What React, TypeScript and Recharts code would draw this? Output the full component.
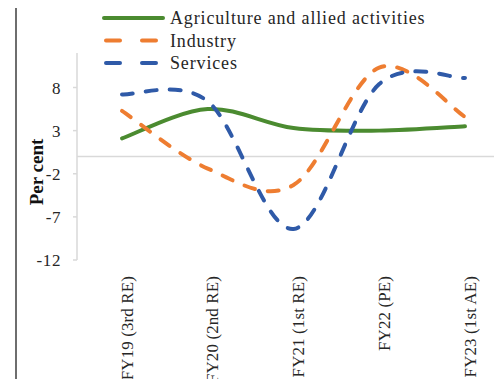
import React from "react";
import { Line, LineChart, ReferenceLine, XAxis, YAxis } from "recharts";

const years = ["FY19 (3rd RE)", "FY20 (2nd RE)", "FY21 (1st RE)", "FY22 (PE)", "FY23 (1st AE)"];
const agriculture = [2.1, 5.5, 3.3, 3.0, 3.5];
const industry = [5.3, -1.4, -3.3, 10.3, 4.6];
const services = [7.2, 6.4, -8.4, 8.4, 9.1];
const yTicks = [-12, -7, -2, 3, 8];

const series = [
  { key: "agriculture", name: "Agriculture and allied activities", color: "#4b8b30", dash: undefined },
  { key: "industry", name: "Industry", color: "#ee7d31", dash: "11 13" },
  { key: "services", name: "Services", color: "#2f5aa8", dash: "11 13" },
];

const data = years.map((year, i) => ({
  year,
  agriculture: agriculture[i],
  industry: industry[i],
  services: services[i],
}));

const FONT = "'Liberation Serif', 'Times New Roman', serif";

// smoothed line through every point, like the spreadsheet "smoothed line" option
function smoothCurve(context: any) {
  let pts: number[][] = [];
  return {
    areaStart() {},
    areaEnd() {},
    lineStart() {
      pts = [];
    },
    point(x: number, y: number) {
      pts.push([+x, +y]);
    },
    lineEnd() {
      if (!pts.length) return;
      context.moveTo(pts[0][0], pts[0][1]);
      for (let i = 0; i < pts.length - 1; i++) {
        const p0 = pts[i - 1] || pts[i];
        const p1 = pts[i];
        const p2 = pts[i + 1];
        const p3 = pts[i + 2] || p2;
        context.bezierCurveTo(
          p1[0] + (p2[0] - p0[0]) / 6,
          p1[1] + (p2[1] - p0[1]) / 6,
          p2[0] - (p3[0] - p1[0]) / 6,
          p2[1] - (p3[1] - p1[1]) / 6,
          p2[0],
          p2[1]
        );
      }
    },
  };
}

function YearTick(props: any) {
  const { x, y, payload } = props;
  const tx = x + 5;
  const ty = y + 8;
  return (
    <text
      x={tx}
      y={ty}
      transform={`rotate(-90, ${tx}, ${ty})`}
      textAnchor="end"
      dominantBaseline="central"
      fontFamily={FONT}
      fontSize={17}
      letterSpacing={0.1}
      fill="#262626"
    >
      {payload.value}
    </text>
  );
}

function AxisTitle() {
  const cy = 172;
  const cx = 36;
  return (
    <text
      x={cx}
      y={cy}
      transform={`rotate(-90, ${cx}, ${cy})`}
      textAnchor="middle"
      dominantBaseline="central"
      fontFamily={FONT}
      fontSize={19}
      fontWeight="bold"
      fill="#111"
    >
      Per cent
    </text>
  );
}

function LegendBox() {
  return (
    <svg width={480} height={75} style={{ position: "absolute", left: 0, top: 0 }}>
      {series.map((s, i) => {
        const y = 18 + i * 22.5;
        return (
          <g key={s.key}>
            <line
              x1={s.dash ? 106 : 104}
              x2={s.dash ? 160 : 163}
              y1={y}
              y2={y}
              stroke={s.color}
              strokeWidth={4}
              strokeDasharray={s.dash ? "14 22" : undefined}
              strokeLinecap="round"
            />
            <text
              x={170}
              y={y + 6}
              fontFamily={FONT}
              fontSize={18}
              letterSpacing={0.85}
              fill="#262626"
            >
              {s.name}
            </text>
          </g>
        );
      })}
    </svg>
  );
}

export default function App() {
  return (
    <div
      style={{
        position: "relative",
        margin: -8,
        width: 502,
        height: 387,
        overflow: "hidden",
        background: "#fff",
      }}
    >
      <div
        style={{
          position: "absolute",
          left: 15,
          top: 6,
          width: 600,
          height: 400,
          borderLeft: "2px solid #6e6e6e",
          borderTop: "2px solid #6e6e6e",
        }}
      />
      <div style={{ position: "absolute", left: 0, top: 0 }}>
        <LineChart width={512} height={400} data={data} margin={{ top: 53, right: 0, bottom: 0, left: 0 }}>
          <XAxis
            dataKey="year"
            axisLine={false}
            tickLine={false}
            interval={0}
            height={140}
            padding={{ left: 45, right: 47 }}
            tick={<YearTick />}
          />
          <YAxis
            width={77}
            domain={[-12, 12]}
            ticks={yTicks}
            allowDataOverflow
            axisLine={{ stroke: "#d9d9d9", strokeWidth: 1.5 }}
            tickLine={{ stroke: "#d9d9d9", strokeWidth: 1.5 }}
            tickSize={4}
            tickMargin={12}
            tick={{ fontFamily: FONT, fontSize: 17, fill: "#262626", letterSpacing: 0.6 }}
            label={<AxisTitle />}
          />
          <ReferenceLine y={0} stroke="#d9d9d9" strokeWidth={1.5} />
          {series.map((s) => (
            <Line
              key={s.key}
              dataKey={s.key}
              name={s.name}
              type={smoothCurve as any}
              stroke={s.color}
              strokeWidth={4}
              strokeDasharray={s.dash}
              strokeLinecap="round"
              dot={false}
              activeDot={false}
              isAnimationActive={false}
            />
          ))}
        </LineChart>
      </div>
      <LegendBox />
    </div>
  );
}
